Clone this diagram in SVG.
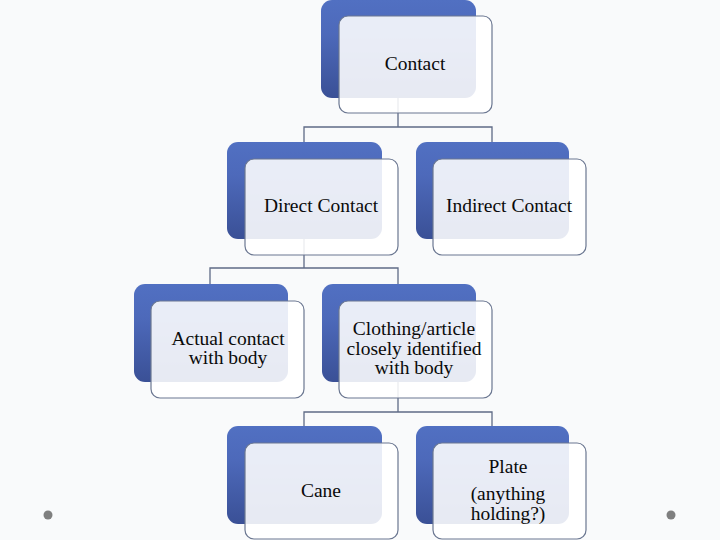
<svg xmlns="http://www.w3.org/2000/svg" width="720" height="540" viewBox="0 0 720 540">
<defs>
<linearGradient id="blue" x1="0" y1="0" x2="0" y2="1">
<stop offset="0" stop-color="#5170c2"/>
<stop offset="0.35" stop-color="#4d69ba"/>
<stop offset="1" stop-color="#3a5096"/>
</linearGradient>
<style>
.back{fill:url(#blue);}
.front{fill:#ffffff;fill-opacity:0.88;stroke:#6b7791;stroke-width:1.2;}
.conn{fill:none;stroke:#5f6b86;stroke-width:1.3;}
.lbl{font-family:"Liberation Serif","DejaVu Serif",serif;font-size:19.5px;fill:#0a0a0a;text-anchor:middle;}
.dot{fill:#7f7f7f;}
</style>
</defs>
<rect x="0" y="0" width="720" height="540" fill="#f9fafb"/>
<g id="connectors">
<path class="conn" d="M398,98 V127 M304,142 V127 H492 V142"/>
<path class="conn" d="M304,239 V268 M210,284 V268 H398 V284"/>
<path class="conn" d="M398,382 V412 M304,426 V412 H492 V426"/>
</g>
<g id="node-contact">
<rect class="back" x="321" y="0" width="155" height="98" rx="11"/>
<rect class="front" x="339" y="16" width="153" height="97" rx="9"/>
<text class="lbl" x="415" y="70">Contact</text>
</g>
<g id="node-direct">
<rect class="back" x="227" y="142" width="155" height="97" rx="11"/>
<rect class="front" x="245" y="159" width="153" height="96" rx="9"/>
<text class="lbl" x="321" y="212">Direct Contact</text>
</g>
<g id="node-indirect">
<rect class="back" x="416" y="142" width="153" height="97" rx="11"/>
<rect class="front" x="433" y="159" width="153" height="96" rx="9"/>
<text class="lbl" x="509" y="212">Indirect Contact</text>
</g>
<g id="node-actual">
<rect class="back" x="134" y="284" width="154" height="98" rx="11"/>
<rect class="front" x="151" y="301" width="153" height="97" rx="9"/>
<text class="lbl" x="228" y="345">Actual contact</text>
<text class="lbl" x="228" y="364">with body</text>
</g>
<g id="node-clothing">
<rect class="back" x="322" y="284" width="154" height="98" rx="11"/>
<rect class="front" x="339" y="301" width="153" height="97" rx="9"/>
<text class="lbl" x="414" y="335">Clothing/article</text>
<text class="lbl" x="414" y="355">closely identified</text>
<text class="lbl" x="414" y="374">with body</text>
</g>
<g id="node-cane">
<rect class="back" x="227" y="426" width="155" height="98" rx="11"/>
<rect class="front" x="245" y="443" width="153" height="96" rx="9"/>
<text class="lbl" x="321" y="497">Cane</text>
</g>
<g id="node-plate">
<rect class="back" x="416" y="426" width="153" height="98" rx="11"/>
<rect class="front" x="433" y="443" width="153" height="96" rx="9"/>
<text class="lbl" x="508" y="473">Plate</text>
<text class="lbl" x="508" y="500">(anything</text>
<text class="lbl" x="508" y="520">holding?)</text>
</g>
<circle class="dot" cx="48" cy="515" r="4.5"/>
<circle class="dot" cx="671" cy="515" r="4.5"/>
</svg>
